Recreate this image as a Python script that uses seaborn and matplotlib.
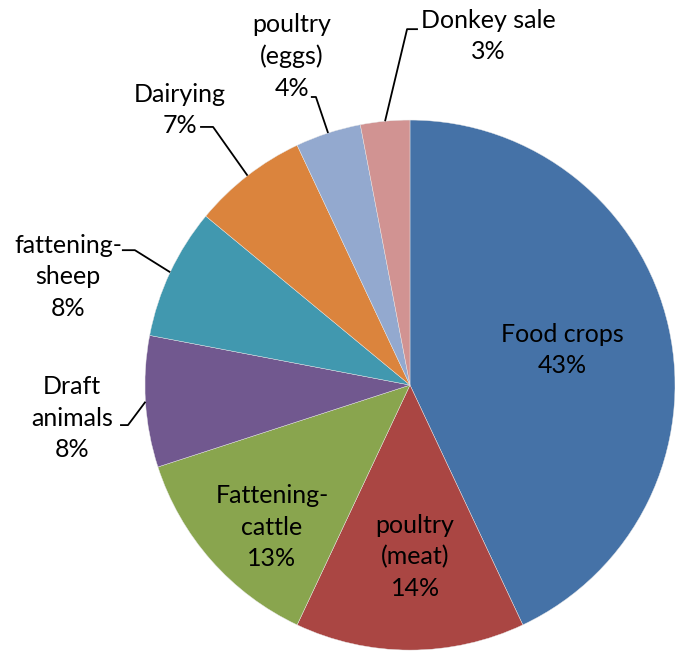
import matplotlib
matplotlib.use("Agg")
import matplotlib.pyplot as plt
import seaborn as sns
import numpy as np

# slice data, clockwise from 12 o'clock
categories = ["Food crops", "poultry\n(meat)", "Fattening-\ncattle", "Draft\nanimals",
              "fattening-\nsheep", "Dairying", "poultry\n(eggs)", "Donkey sale"]
shares = [43, 14, 13, 8, 8, 7, 4, 3]
colors = ["#4572A7", "#AA4643", "#89A54E", "#71588F",
          "#4198AF", "#DB843D", "#93A9CF", "#D19392"]

# label centres in pie-radius units
label_pos = [(0.574, 0.132), (0.019, -0.649), (-0.521, -0.536), (-1.275, -0.125),
             (-1.291, 0.408), (-0.868, 1.038), (-0.445, 1.241), (0.294, 1.317)]
# leader lines for the outside labels: (elbow, end)
leaders = [None, None, None,
           ((-1.064, -0.151), (-1.094, -0.151)),
           ((-1.038, 0.509), (-1.087, 0.509)),
           ((-0.743, 0.974), (-0.792, 0.974)),
           ((-0.355, 1.087), (-0.374, 1.087)),
           ((-0.011, 1.343), (0.030, 1.343))]

sns.set_theme(style="white")
plt.rcParams["font.family"] = ["Lato", "DejaVu Sans"]

fig = plt.figure(figsize=(6.75, 6.53), dpi=100)
ax = fig.add_axes([0, 0, 1, 1])
wedges, _ = ax.pie(shares, colors=colors, startangle=90, counterclock=False,
                   radius=1, wedgeprops=dict(edgecolor="#e8e8e8", linewidth=0.3))

for w, name, v, pos, ld in zip(wedges, categories, shares, label_pos, leaders):
    ax.text(pos[0], pos[1], f"{name}\n{v}%", ha="center", va="center",
            fontsize=18, color="black", linespacing=1.45)
    if ld is not None:
        mid = np.deg2rad((w.theta1 + w.theta2) / 2)
        xs = [np.cos(mid), ld[0][0], ld[1][0]]
        ys = [np.sin(mid), ld[0][1], ld[1][1]]
        ax.plot(xs, ys, color="black", lw=1.3, solid_capstyle="butt")

ax.set_xlim(-1.547, 1.0)
ax.set_ylim(-1.011, 1.453)
ax.set_aspect("auto")
ax.axis("off")

fig.savefig("out.png", dpi=100)
